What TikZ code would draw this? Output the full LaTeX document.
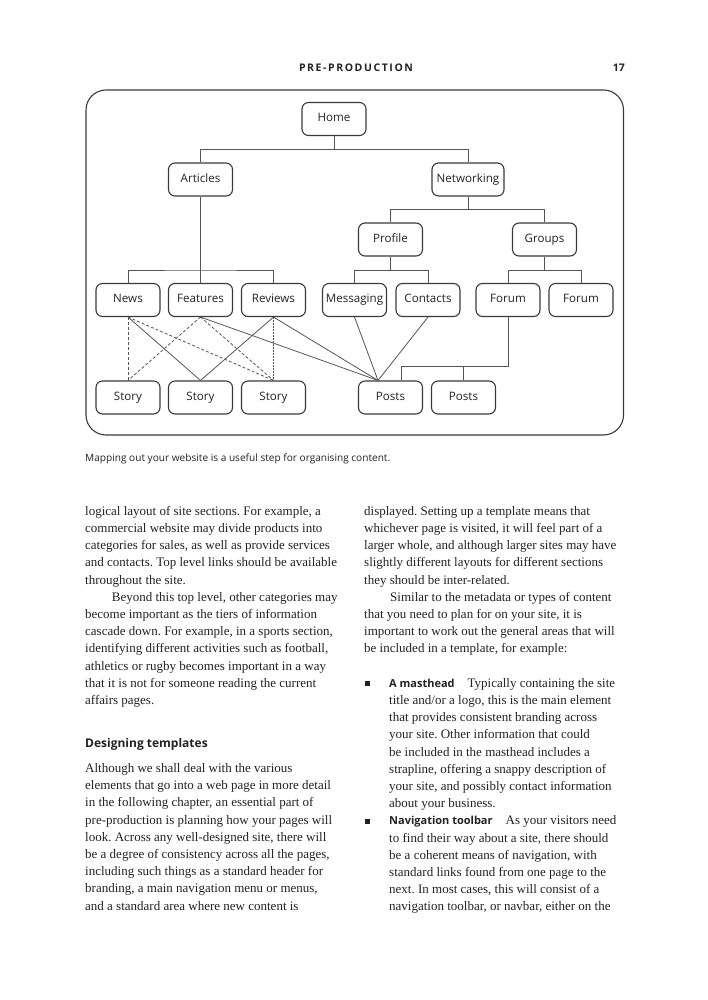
\documentclass[tikz,border=0pt]{standalone}
\usepackage{fontspec}
\setmainfont{Liberation Serif}
\setsansfont{Open Sans}
\frenchspacing
\definecolor{txt}{HTML}{222222}
\definecolor{boxc}{HTML}{3A3A3A}
\definecolor{linec}{HTML}{555555}
\newcommand\mybsf{\sffamily\bfseries\fontsize{11}{13}\selectfont}
\tikzset{
  box/.style={draw=boxc, line width=1.1pt, rounded corners=6.5pt, minimum width=64pt,
    minimum height=33pt, inner sep=0pt, text height=8.5pt, text depth=2.6pt,
    text=txt, font=\sffamily\fontsize{11.6}{13}\selectfont},
  link/.style={draw=linec, line width=0.8pt},
  dlink/.style={link, dash pattern=on 3pt off 2pt},
  dotlink/.style={link, dash pattern=on 1.5pt off 1.5pt},
  body/.style={anchor=base west, inner sep=0pt, text=txt, font=\fontsize{13}{17.2}\selectfont},
}
\begin{document}
\begin{tikzpicture}[x=1pt,y=-1pt]
\useasboundingbox (0,0) rectangle (707,1000);
% running head
\node[text=txt, font=\sffamily\bfseries\fontsize{10.5}{12}\selectfont\addfontfeature{LetterSpace=15}] (head) at (356,68) {PRE-PRODUCTION};
\node[text=txt, font=\sffamily\bfseries\fontsize{10.5}{12}\selectfont, anchor=east, inner sep=0pt] (pnum) at (625,68) {17};
% frame
\draw[draw=boxc, line width=1.1pt, rounded corners=20pt] (86,90) rectangle (623.5,435);
% nodes
\node[box] (home) at (334,119) {Home};
\node[box] (art) at (200.5,179.5) {Articles};
\node[box, minimum width=72pt] (net) at (468,179.5) {Networking};
\node[box] (prof) at (390.5,239.5) {Profile};
\node[box] (grp) at (544.5,239.5) {Groups};
\node[box] (news) at (128,300) {News};
\node[box] (feat) at (200.5,300) {Features};
\node[box] (rev) at (273.5,300) {Reviews};
\node[box] (msg) at (354.5,300) {Messaging};
\node[box] (cont) at (428,300) {Contacts};
\node[box] (for1) at (508,300) {Forum};
\node[box] (for2) at (581,300) {Forum};
\node[box] (st1) at (128,397.5) {Story};
\node[box] (st2) at (200.5,397.5) {Story};
\node[box] (st3) at (273.5,397.5) {Story};
\node[box] (po1) at (390.5,397.5) {Posts};
\node[box] (po2) at (463.5,397.5) {Posts};
% tree connectors
\draw[link] (home.south) -- ++(0,13.5) coordinate (b1);
\draw[link] (art.north) |- (b1) -| (net.north);
\draw[link] (net.south) -- ++(0,13) coordinate (b2);
\draw[link] (prof.north) |- (b2) -| (grp.north);
\draw[link] (art.south) -- (feat.north);
\coordinate (b3) at (200.5,270);
\draw[link] (news.north) |- (b3) -| (rev.north);
\draw[link] (prof.south) -- ++(0,14) coordinate (b4);
\draw[link] (msg.north) |- (b4) -| (cont.north);
\draw[link] (grp.south) -- ++(0,14) coordinate (b5);
\draw[link] (for1.north) |- (b5) -| (for2.north);
% cross links
\coordinate (pc) at ([xshift=-12.5pt]po1.north);
\draw[link] (news.south) -- (st2.north);
\draw[link] (rev.south) -- (st2.north);
\draw[link] (feat.south) -- (pc);
\draw[link] (rev.south) -- (pc);
\draw[link] (msg.south) -- (pc);
\draw[link] (cont.south) -- (pc);
\draw[dlink] (news.south) -- (st1.north);
\draw[dlink] (news.south) -- (st3.north);
\draw[dlink] (feat.south) -- (st1.north);
\draw[dlink] (feat.south) -- (st3.north);
\draw[dotlink] (rev.south) -- (st3.north);
% forum to posts
\coordinate (fp) at ([xshift=11pt]po1.north);
\coordinate (fb) at ([yshift=14pt]fp);
\draw[link] (fp) -- (fb) -| (for1.south);
\draw[link] (po2.north) -- (po2.north |- fb);
% caption
\node[anchor=base west, inner sep=0pt, text=txt, font=\sffamily\fontsize{10.1}{12}\selectfont] (cap) at (85,461.5) {Mapping out your website is a useful step for organising content.};
% left column
\foreach \t [count=\n from 0] in {
 {logical layout of site sections. For example, a},
 {commercial website may divide products into},
 {categories for sales, as well as provide services},
 {and contacts. Top level links should be available},
 {throughout the site.},
 {\hspace*{26.7pt}Beyond this top level, other categories may},
 {become important as the tiers of information},
 {cascade down. For example, in a sports section,},
 {identifying different activities such as football,},
 {athletics or rugby becomes important in a way},
 {that it is not for someone reading the current},
 {affairs pages.}}
 \node[body, name=la\n] at (85,515.2+17.2*\n) {\t};
\node[anchor=base west, inner sep=0pt, text=txt, font=\sffamily\bfseries\fontsize{12}{14}\selectfont] (hd) at (85,747.5) {Designing templates};
\foreach \t [count=\n from 0] in {
 {Although we shall deal with the various},
 {elements that go into a web page in more detail},
 {in the following chapter, an essential part of},
 {pre-production is planning how your pages will},
 {look. Across any well-designed site, there will},
 {be a degree of consistency across all the pages,},
 {including such things as a standard header for},
 {branding, a main navigation menu or menus,},
 {and a standard area where new content is}}
 \node[body, name=lb\n] at (85,772.5+17.2*\n) {\t};
% right column
\foreach \t [count=\n from 0] in {
 {displayed. Setting up a template means that},
 {whichever page is visited, it will feel part of a},
 {larger whole, and although larger sites may have},
 {slightly different layouts for different sections},
 {they should be inter-related.},
 {\hspace*{26pt}Similar to the metadata or types of content},
 {that you need to plan for on your site, it is},
 {important to work out the general areas that will},
 {be included in a template, for example:}}
 \node[body, name=ra\n] at (364,515.2+17.2*\n) {\t};
\foreach \t [count=\n from 0] in {
 {{\mybsf A masthead}\hspace{13pt}Typically containing the site},
 {title and/or a logo, this is the main element},
 {that provides consistent branding across},
 {your site. Other information that could},
 {be included in the masthead includes a},
 {strapline, offering a snappy description of},
 {your site, and possibly contact information},
 {about your business.},
 {{\mybsf Navigation toolbar}\hspace{13pt}As your visitors need},
 {to find their way about a site, there should},
 {be a coherent means of navigation, with},
 {standard links found from one page to the},
 {next. In most cases, this will consist of a},
 {navigation toolbar, or navbar, either on the}}
 \node[body, name=rb\n] at (389,687.2+17.2*\n) {\t};
\fill[txt] (364.5,681) rectangle (369.5,686);
\fill[txt] (364.5,818.5) rectangle (369.5,823.5);
\end{tikzpicture}
\end{document}
